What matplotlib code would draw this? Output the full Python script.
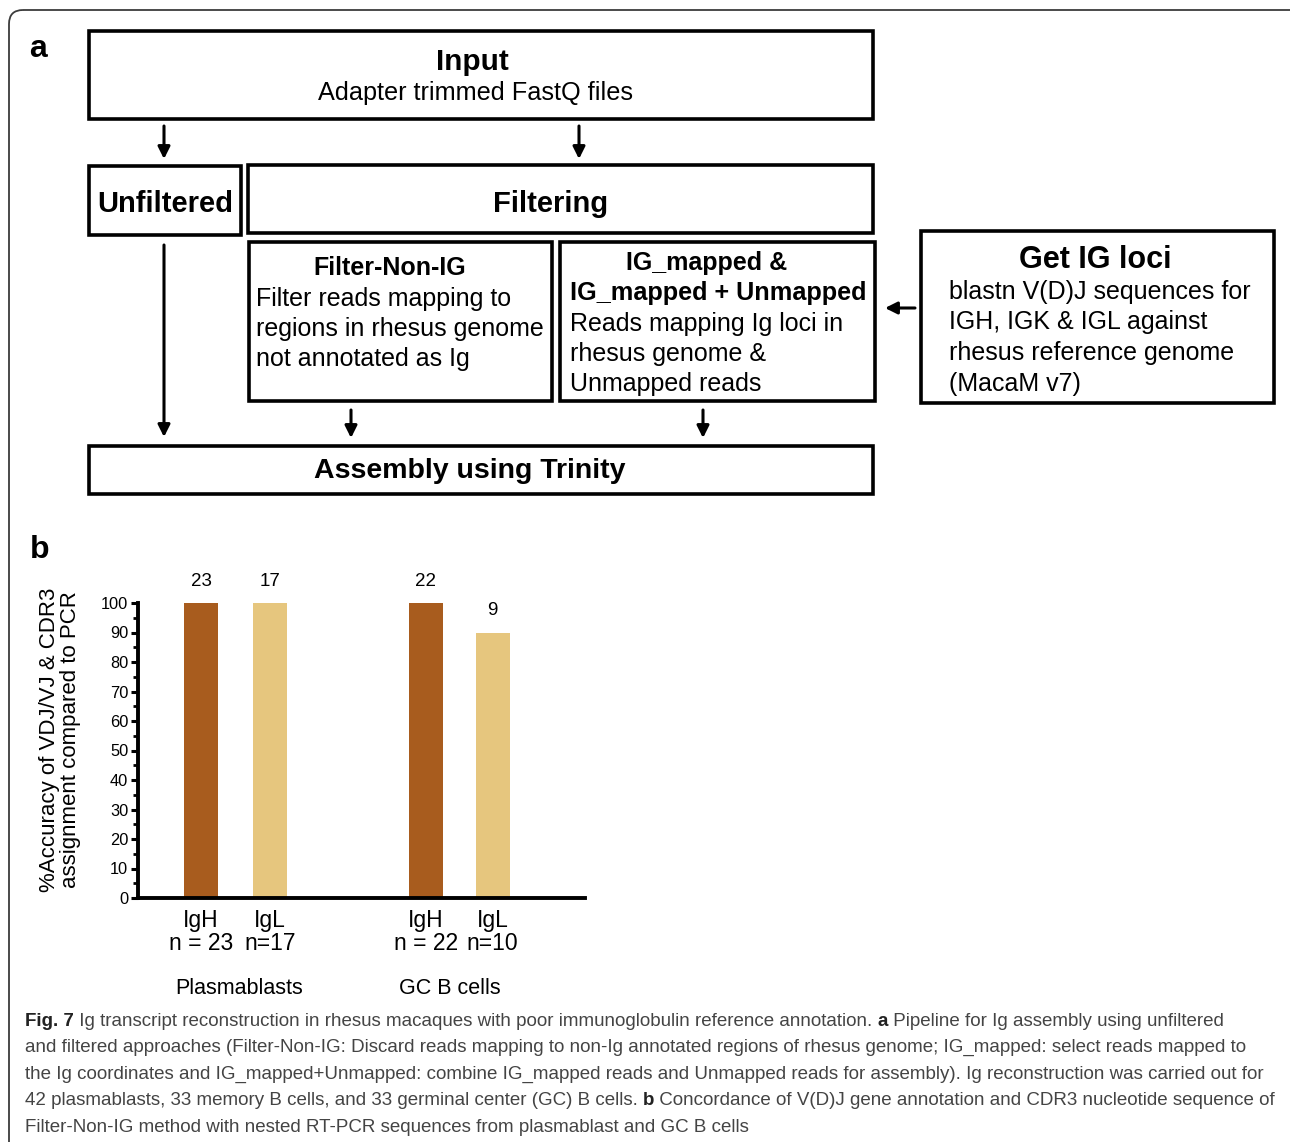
import matplotlib.pyplot as plt
from matplotlib.patches import Rectangle, FancyBboxPatch
from matplotlib.transforms import blended_transform_factory

# panel b data
cell_types = ['Plasmablasts', 'GC B cells']
chains = ['IgH', 'IgL', 'IgH', 'IgL']
n_total = [23, 17, 22, 10]
n_concordant = [23, 17, 22, 9]
accuracy = [100, 100, 100, 90]
yticks = [0, 10, 20, 30, 40, 50, 60, 70, 80, 90, 100]

bar_colors = ['#A85C1E', '#E6C67E', '#A85C1E', '#E6C67E']
bar_x = [0, 1, 3.26, 4.23]
group_shift = [0.05, -0.13]

plt.rcParams['font.family'] = ['Liberation Sans', 'DejaVu Sans']

W, H = 1290, 1142
fig = plt.figure(figsize=(W / 100, H / 100), dpi=100)

# pixel-space axes for the flow diagram and frame
bg = fig.add_axes([0, 0, 1, 1])
bg.set_xlim(0, W)
bg.set_ylim(H, 0)
bg.axis('off')

frame = FancyBboxPatch((9, 10), 1400, 1300, boxstyle='round,pad=0,rounding_size=14',
                       fill=False, ec='#3c3c3c', lw=1.3)
bg.add_patch(frame)


def box(x0, y0, x1, y1):
    bg.add_patch(Rectangle((x0, y0), x1 - x0, y1 - y0, fill=False, ec='black', lw=2.6))


def arrow(x0, y0, x1, y1):
    bg.annotate('', xy=(x1, y1), xytext=(x0, y0),
                arrowprops=dict(arrowstyle='-|>', color='black', lw=2.2,
                                mutation_scale=18, shrinkA=0, shrinkB=0))


def label(x, y, s, size, bold=False, ha='center'):
    bg.text(x, y + 2, s, fontsize=size, fontweight='bold' if bold else 'normal',
            ha=ha, va='center')


label(38, 47, 'a', 23, True)
label(40, 548, 'b', 23, True)

# Input
box(89, 31, 873, 119)
label(472, 60, 'Input', 21.3, True)
label(476, 91, 'Adapter trimmed FastQ files', 18.2)

arrow(164, 126, 164, 159)
arrow(579, 126, 579, 159)

# Unfiltered / Filtering
box(89, 166, 241, 235)
label(165, 202, 'Unfiltered', 21, True)
box(248, 165, 873, 233)
label(551, 202, 'Filtering', 21, True)

# Filter-Non-IG
box(249, 242, 552, 401)
label(390, 266, 'Filter-Non-IG', 18, True)
for i, line in enumerate(['Filter reads mapping to', 'regions in rhesus genome',
                          'not annotated as Ig']):
    label(256, 297 + 30 * i, line, 18, ha='left')

# IG_mapped
box(560, 242, 875, 401)
label(707, 261, 'IG_mapped &', 18, True)
label(570, 291, 'IG_mapped + Unmapped', 18.2, True, ha='left')
for i, line in enumerate(['Reads mapping Ig loci in', 'rhesus genome &', 'Unmapped reads']):
    label(570, 322 + 30 * i, line, 18, ha='left')

# Get IG loci
box(921, 231, 1274, 403)
label(1095, 258, 'Get IG loci', 22, True)
for i, line in enumerate(['blastn V(D)J sequences for', 'IGH, IGK & IGL against',
                          'rhesus reference genome', '(MacaM v7)']):
    label(949, 290 + 30.5 * i, line, 18, ha='left')
arrow(915, 308, 885, 308)

arrow(164, 245, 164, 437)
arrow(351, 410, 351, 438)
arrow(703, 410, 703, 438)

# Assembly
box(89, 446, 873, 494)
label(470, 469, 'Assembly using Trinity', 20.5, True)

# panel b bar chart
ax_l, ax_r, ax_t, ax_b = 138, 585, 603, 898
ax = fig.add_axes([ax_l / W, (H - ax_b) / H, (ax_r - ax_l) / W, (ax_b - ax_t) / H])
ax.bar(bar_x, accuracy, width=0.49, color=bar_colors)
ax.set_xlim(-0.913, 5.57)
ax.set_ylim(0, 100)
ax.set_yticks(yticks)
ax.set_yticks(range(5, 100, 10), minor=True)
ax.set_xticks([])
for s in ['top', 'right']:
    ax.spines[s].set_visible(False)
for s in ['left', 'bottom']:
    ax.spines[s].set_linewidth(2.8)
ax.tick_params(axis='y', which='major', length=5, width=2.2, labelsize=11.8, pad=2)
ax.tick_params(axis='y', which='minor', length=3.5, width=2)
ax.patch.set_alpha(0)

for x, v, c in zip(bar_x, accuracy, n_concordant):
    ax.text(x, v + 4.5, str(c), ha='center', va='bottom', fontsize=13.5, clip_on=False)

tr = blended_transform_factory(ax.transData, bg.transData)
for x, ch, n in zip(bar_x, chains, n_total):
    bg.text(x, 921, ch, transform=tr, ha='center', va='center', fontsize=16.5)
    lab = f'n = {n}' if ch == 'IgH' else f'n={n}'
    bg.text(x, 944, lab, transform=tr, ha='center', va='center', fontsize=16.5)
for k, name in enumerate(cell_types):
    xc = (bar_x[2 * k] + bar_x[2 * k + 1]) / 2 + group_shift[k]
    bg.text(xc, 988, name, transform=tr, ha='center', va='center', fontsize=15.5)

bg.text(60, 740, '%Accuracy of VDJ/VJ & CDR3\nassignment compared to PCR', rotation=90,
        ha='center', va='center', fontsize=16, linespacing=1.0)

# caption with inline bold runs
cap_font = ['Liberation Sans Narrow', 'Liberation Sans', 'DejaVu Sans']
caption = [
    [('Fig. 7', True), (' Ig transcript reconstruction in rhesus macaques with poor immunoglobulin reference annotation. ', False),
     ('a', True), (' Pipeline for Ig assembly using unfiltered', False)],
    [('and filtered approaches (Filter-Non-IG: Discard reads mapping to non-Ig annotated regions of rhesus genome; IG_mapped: select reads mapped to', False)],
    [('the Ig coordinates and IG_mapped+Unmapped: combine IG_mapped reads and Unmapped reads for assembly). Ig reconstruction was carried out for', False)],
    [('42 plasmablasts, 33 memory B cells, and 33 germinal center (GC) B cells. ', False), ('b', True),
     (' Concordance of V(D)J gene annotation and CDR3 nucleotide sequence of', False)],
    [('Filter-Non-IG method with nested RT-PCR sequences from plasmablast and GC B cells', False)],
]
renderer = fig.canvas.get_renderer()
inv = bg.transData.inverted()
for i, runs in enumerate(caption):
    x = 25
    y = 1021 + 26.5 * i
    for txt, bold in runs:
        t = bg.text(x, y, txt, fontsize=13.5, family=cap_font, ha='left', va='center',
                    fontweight='bold' if bold else 'normal',
                    color='#222222' if bold else '#444444')
        bb = t.get_window_extent(renderer=renderer)
        x = inv.transform((bb.x1, bb.y0))[0]

fig.savefig('out.png', dpi=100)
